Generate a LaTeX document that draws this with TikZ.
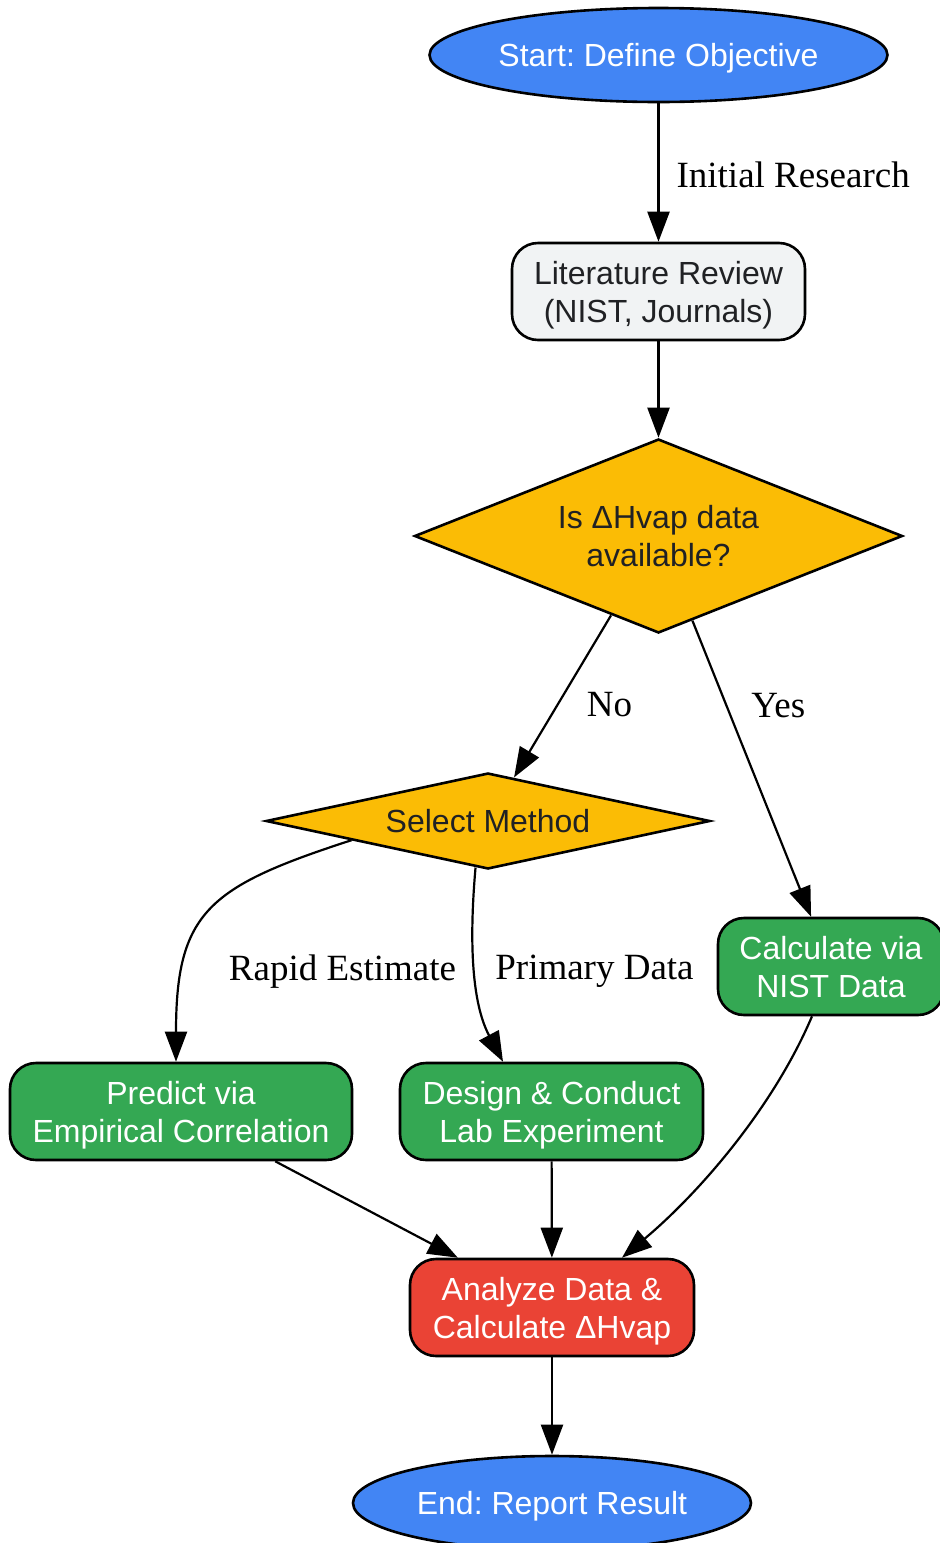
\documentclass[tikz,border=0pt]{standalone}
\usepackage{fontspec}
\setmainfont{Liberation Sans}
\newfontfamily\labelfont{Liberation Serif}
\usetikzlibrary{arrows.meta,shapes.geometric}

\definecolor{gblue}{HTML}{4285F4}
\definecolor{ggreen}{HTML}{34A853}
\definecolor{gred}{HTML}{EA4335}
\definecolor{gyellow}{HTML}{FBBC05}
\definecolor{ggray}{HTML}{F1F3F4}
\definecolor{gtext}{HTML}{202124}
\frenchspacing

\begin{document}
\begin{tikzpicture}[x=0.5pt,y=-0.5pt,>={Triangle[length=15pt,width=11pt]}]
	\tikzstyle{nodebase} = [draw=black,line width=1.3pt,inner sep=0pt,align=center,text depth=0pt,font=\fontsize{16}{19}\selectfont];
	\tikzstyle{termnode} = [nodebase,ellipse,fill=gblue,text=white,minimum height=47pt];
	\tikzstyle{process} = [nodebase,rectangle,rounded corners=13pt,minimum height=48.5pt];
	\tikzstyle{decision} = [nodebase,diamond,fill=gyellow,text=gtext];
	\tikzstyle{elabel} = [inner sep=0pt,font=\labelfont\fontsize{18.5}{22}\selectfont];
	\tikzstyle{edgeline} = [->,line width=1.1pt];
	\useasboundingbox (0,0) rectangle (940,1543);
	% nodes
	\node[termnode,minimum width=229pt] (start) at (658.5,55) {Start: Define Objective};
	\node[process,fill=ggray,text=gtext,minimum width=146.5pt] (lit) at (658.5,291.5) {Literature Review\\(NIST, Journals)};
	\node[decision,aspect=2.5,minimum width=244pt,minimum height=97pt] (avail) at (658.5,536) {Is ΔHvap data\\available?};
	\node[decision,aspect=4.6,minimum width=222pt,minimum height=48pt] (select) at (488,821) {Select Method};
	\node[process,fill=ggreen,text=white,minimum width=113pt] (nist) at (831,966.5) {Calculate via\\NIST Data};
	\node[process,fill=ggreen,text=white,minimum width=171pt] (predict) at (181,1111.5) {Predict via\\Empirical Correlation};
	\node[process,fill=ggreen,text=white,minimum width=151.5pt] (design) at (551.5,1111.5) {Design \& Conduct\\Lab Experiment};
	\node[process,fill=gred,text=white,minimum width=142pt] (analyze) at (552,1307.5) {Analyze Data \&\\Calculate ΔHvap};
	\node[termnode,minimum width=199pt] (end) at (552,1503) {End: Report Result};
	% connectors
	\draw[edgeline] (start) -- node[elabel,pos=0.52,anchor=west,xshift=8.5pt] {Initial Research} (lit);
	\draw[edgeline] (lit) -- (avail);
	\draw[edgeline] (avail) -- node[elabel,pos=0.55,anchor=west,xshift=14pt] {No} (select);
	\draw[edgeline] (avail) -- node[elabel,pos=0.285,anchor=west,xshift=12pt] {Yes} (nist);
	\draw[edgeline] (select.188) .. controls +(198:75pt) and +(90:75pt) .. ([xshift=-2.5pt]predict.north);
	\draw[edgeline] (select.255) .. controls +(265:45pt) and +(118:30pt) .. ([xshift=-24.25pt]design.north);
	\draw[edgeline] ([xshift=-9.5pt]nist.south) .. controls +(247:50pt) and +(40:50pt) .. ([xshift=35pt]analyze.north);
	\draw[edgeline] (predict) -- (analyze);
	\draw[edgeline] (design) -- (analyze);
	\draw[edgeline] (analyze) -- (end);
	% labels of the curved connectors
	\node[elabel] (rapid) at (342.5,971.5) {Rapid Estimate};
	\node[elabel] (primary) at (594.5,971.5) {Primary Data};
\end{tikzpicture}
\end{document}
